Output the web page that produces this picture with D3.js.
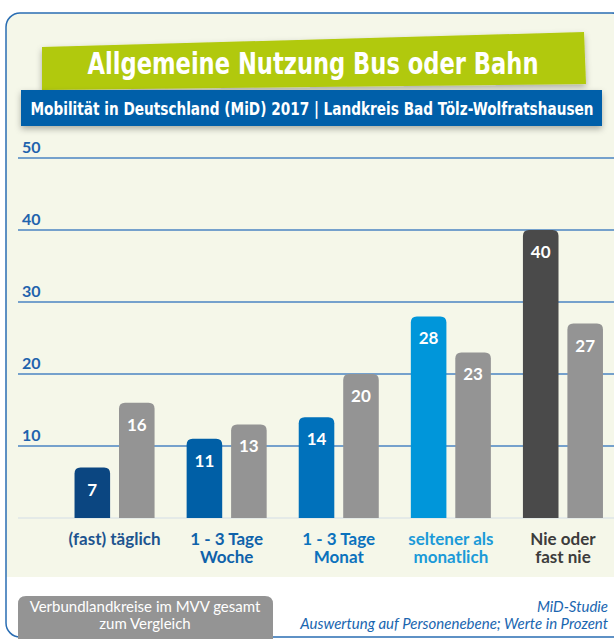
<!DOCTYPE html>
<head>
  <meta charset="utf-8">
  <title>Allgemeine Nutzung Bus oder Bahn</title>
  <script src="https://d3js.org/d3.v7.min.js"></script>
  <style>
    body { margin: 0; background: #fff; }
    svg { display: block; }
  </style>
</head>
<body>
<div id="chart"></div>
<script>
  // data
  var categories = ["(fast) täglich", "1 - 3 Tage|Woche", "1 - 3 Tage|Monat", "seltener als|monatlich", "Nie oder|fast nie"];
  var landkreis = [7, 11, 14, 28, 40];
  var mvvGesamt = [16, 13, 20, 23, 27];
  var yTicks = [10, 20, 30, 40, 50];
  var barColors = ["#0b4681", "#005fa6", "#0071bb", "#0096da", "#4a4a4a"];
  var labelColors = ["#1d548f", "#0f62aa", "#0b72bd", "#1b9ad8", "#3c3c3c"];
  var greyColor = "#949494";

  var width = 614, height = 639;

  var svg = d3.select("#chart").append("svg")
    .attr("width", width)
    .attr("height", height);

  var defs = svg.append("defs");
  var shadow = defs.append("filter").attr("id", "shadow")
    .attr("x", "-5%").attr("y", "-30%").attr("width", "110%").attr("height", "170%");
  shadow.append("feDropShadow").attr("dx", 0).attr("dy", 3).attr("stdDeviation", 3)
    .attr("flood-color", "#000").attr("flood-opacity", 0.3);

  // panel
  var px = 6, py = 13, pr = 14, pRight = 626, pBottom = 637;
  svg.append("path")
    .attr("d", "M" + px + "," + 577 + " V" + (py + pr) + " Q" + px + "," + py + " " + (px + pr) + "," + py +
      " H" + (pRight - pr) + " Q" + pRight + "," + py + " " + pRight + "," + (py + pr) + " V577 Z")
    .attr("fill", "#f5f7e9");
  svg.append("rect")
    .attr("x", px).attr("y", py).attr("rx", pr).attr("ry", pr)
    .attr("width", pRight - px).attr("height", pBottom - py)
    .attr("fill", "none").attr("stroke", "#2a6db3").attr("stroke-width", 1.5);

  // scales
  var x0 = d3.scaleBand().domain(categories).range([58.5, 619])
    .paddingInner(0.286).paddingOuter(0.143);
  var x1 = d3.scaleBand().domain(["lk", "mvv"]).range([0, x0.bandwidth()]).paddingInner(0.2);
  var y = d3.scaleLinear().domain([0, 50]).range([518, 158]);

  // grid
  var grid = svg.append("g");
  grid.append("line")
    .attr("x1", 18).attr("x2", width).attr("y1", y(0)).attr("y2", y(0))
    .attr("stroke", "#d3dde6").attr("stroke-width", 1);
  grid.selectAll("line.tick").data(yTicks).enter().append("line")
    .attr("class", "tick")
    .attr("x1", 18).attr("x2", width)
    .attr("y1", function(d) { return y(d); }).attr("y2", function(d) { return y(d); })
    .attr("stroke", "#4a85c2").attr("stroke-width", 1.5);
  grid.selectAll("text").data(yTicks).enter().append("text")
    .attr("x", 22).attr("y", function(d) { return y(d) - 5; })
    .attr("fill", "#1f63ad")
    .attr("font-family", "Lato").attr("font-weight", "bold").attr("font-size", 16)
    .text(function(d) { return d; });

  // rounded-top bar path
  function barPath(x, top, w, bottom, r) {
    return "M" + x + "," + bottom + " V" + (top + r) + " Q" + x + "," + top + " " + (x + r) + "," + top +
      " H" + (x + w - r) + " Q" + (x + w) + "," + top + " " + (x + w) + "," + (top + r) + " V" + bottom + " Z";
  }

  var rows = categories.map(function(c, i) {
    return { cat: c, i: i, lk: landkreis[i], mvv: mvvGesamt[i] };
  });

  var groups = svg.append("g").selectAll("g").data(rows).enter().append("g")
    .attr("transform", function(d) { return "translate(" + x0(d.cat) + ",0)"; });

  var bw = x1.bandwidth();
  groups.append("path")
    .attr("d", function(d) { return barPath(x1("lk"), y(d.lk), bw, y(0), 6); })
    .attr("fill", function(d) { return barColors[d.i]; });
  groups.append("path")
    .attr("d", function(d) { return barPath(x1("mvv"), y(d.mvv), bw, y(0), 6); })
    .attr("fill", greyColor);

  groups.append("text")
    .attr("x", x1("lk") + bw / 2).attr("y", function(d) { return y(d.lk) + 28; })
    .attr("text-anchor", "middle").attr("fill", "#fff")
    .attr("font-family", "Lato").attr("font-weight", "bold").attr("font-size", 17)
    .text(function(d) { return d.lk; });
  groups.append("text")
    .attr("x", x1("mvv") + bw / 2).attr("y", function(d) { return y(d.mvv) + 28; })
    .attr("text-anchor", "middle").attr("fill", "#fff")
    .attr("font-family", "Lato").attr("font-weight", "bold").attr("font-size", 17)
    .text(function(d) { return d.mvv; });

  // category labels
  groups.each(function(d) {
    var lines = d.cat.split("|");
    var t = d3.select(this).append("text")
      .attr("text-anchor", "middle")
      .attr("fill", labelColors[d.i])
      .attr("font-family", "Lato").attr("font-weight", "bold").attr("font-size", 17);
    lines.forEach(function(l, k) {
      t.append("tspan").attr("x", x0.bandwidth() / 2).attr("y", 545 + k * 18).text(l);
    });
  });

  // title banner
  svg.append("path")
    .attr("d", "M42,47 L584,32 L586,84 L42,90 Z")
    .attr("fill", "#b1c90b")
    .attr("filter", "url(#shadow)");
  svg.append("text")
    .attr("x", 313).attr("y", 74)
    .attr("text-anchor", "middle").attr("fill", "#fff")
    .attr("font-family", "DejaVu Sans Condensed").attr("font-weight", "bold").attr("font-size", 30)
    .attr("textLength", 451).attr("lengthAdjust", "spacingAndGlyphs")
    .text("Allgemeine Nutzung Bus oder Bahn");

  // subtitle bar
  svg.append("rect")
    .attr("x", 21).attr("y", 90).attr("width", 581).attr("height", 36)
    .attr("fill", "#065fa9")
    .attr("filter", "url(#shadow)");
  svg.append("text")
    .attr("x", 312).attr("y", 115)
    .attr("text-anchor", "middle").attr("fill", "#fff")
    .attr("font-family", "DejaVu Sans Condensed").attr("font-weight", "bold").attr("font-size", 18)
    .attr("textLength", 563).attr("lengthAdjust", "spacingAndGlyphs")
    .text("Mobilität in Deutschland (MiD) 2017 | Landkreis Bad Tölz-Wolfratshausen");

  // footer legend box
  svg.append("path")
    .attr("d", barPath(18, 596, 255, 650, 8))
    .attr("fill", greyColor);
  var leg = svg.append("text")
    .attr("text-anchor", "middle").attr("fill", "#fff")
    .attr("font-family", "Lato").attr("font-size", 15);
  leg.append("tspan").attr("x", 145).attr("y", 612).text("Verbundlandkreise im MVV gesamt");
  leg.append("tspan").attr("x", 145).attr("y", 629).text("zum Vergleich");

  var src = svg.append("text")
    .attr("text-anchor", "end").attr("fill", "#1a66b0")
    .attr("font-family", "Lato").attr("font-style", "italic").attr("font-size", 15);
  src.append("tspan").attr("x", 608).attr("y", 612).text("MiD-Studie");
  src.append("tspan").attr("x", 608).attr("y", 629).text("Auswertung auf Personenebene; Werte in Prozent");
</script>
</body>
</html>
